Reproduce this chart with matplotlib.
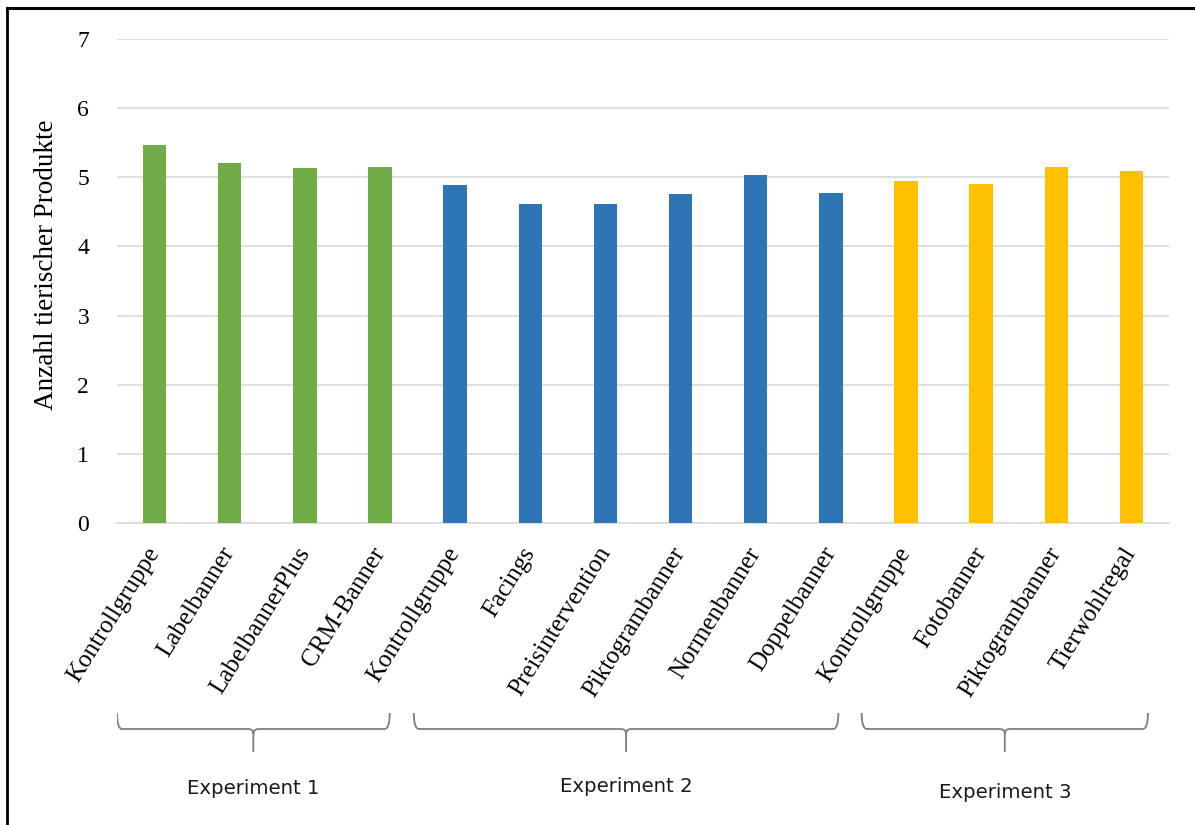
import matplotlib
matplotlib.use("Agg")
import matplotlib.pyplot as plt
from matplotlib.path import Path
from matplotlib.patches import PathPatch
from matplotlib.lines import Line2D

# Mean number of animal products per condition
categories = [
    "Kontrollgruppe", "Labelbanner", "LabelbannerPlus", "CRM-Banner",
    "Kontrollgruppe", "Facings", "Preisintervention", "Piktogrambanner",
    "Normenbanner", "Doppelbanner",
    "Kontrollgruppe", "Fotobanner", "Piktogrambanner", "Tierwohlregal",
]
values = [5.47, 5.21, 5.13, 5.15,
          4.89, 4.61, 4.62, 4.76, 5.03, 4.78,
          4.95, 4.90, 5.15, 5.09]
experiment = [1, 1, 1, 1, 2, 2, 2, 2, 2, 2, 3, 3, 3, 3]
experiment_labels = ["Experiment 1", "Experiment 2", "Experiment 3"]
y_ticks = [0, 1, 2, 3, 4, 5, 6, 7]
y_label = "Anzahl tierischer Produkte"

colors = {1: "#70AD47", 2: "#2E75B6", 3: "#FFC000"}

W, H = 1195, 825
fig = plt.figure(figsize=(W / 100, H / 100), dpi=100)

serif = ["Liberation Serif", "DejaVu Serif"]

# main bar axes
ax = fig.add_axes([117 / W, 1 - 522.7 / H, (1169 - 117) / W, (522.7 - 39.3) / H])
x = list(range(len(categories)))
ax.bar(x, values, width=0.31, color=[colors[e] for e in experiment], zorder=3)
ax.set_xlim(-0.5, len(categories) - 0.5)
ax.set_ylim(0, 7)
ax.set_yticks(y_ticks)
ax.set_yticklabels([str(t) for t in y_ticks], fontfamily=serif, fontsize=17)
ax.yaxis.grid(True, color="#D9D9D9", linewidth=1.2, zorder=0)
for s in ["top", "right", "left"]:
    ax.spines[s].set_visible(False)
ax.spines["bottom"].set_color("#D9D9D9")
ax.spines["bottom"].set_linewidth(1.2)
ax.tick_params(axis="both", length=0)
ax.tick_params(axis="y", pad=20)
ax.set_xticks(x)
ax.set_xticklabels(categories, rotation=58, ha="right", va="center",
                   rotation_mode="anchor", fontfamily=serif, fontsize=18)
ax.tick_params(axis="x", pad=19)

fig.text(47 / W, 1 - 265 / H, y_label, rotation=90, ha="center", va="center",
         fontfamily=serif, fontsize=19.5)

# group braces below the category labels (y in pixel rows)
axb = fig.add_axes([117 / W, 0, (1169 - 117) / W, (825 - 600) / H])
axb.set_xlim(-0.5, len(categories) - 0.5)
axb.set_ylim(825, 600)
axb.axis("off")

brace_spans = [(-0.5, 3.13), (3.45, 9.1), (9.41, 13.22)]
label_rows = [788, 787, 793]
y_top, y_h, y_tip = 713, 729, 752
rx, ry = 0.07, 5

for (x0, x1), lab, ly in zip(brace_spans, experiment_labels, label_rows):
    xc = (x0 + x1) / 2
    verts = [
        (x0, y_top), (x0, y_h), (x0 + rx, y_h),
        (xc - rx, y_h), (xc, y_h), (xc, y_h + ry),
        (xc, y_tip),
        (xc, y_h + ry), (xc, y_h), (xc + rx, y_h),
        (x1 - rx, y_h), (x1, y_h), (x1, y_top),
    ]
    codes = [
        Path.MOVETO, Path.CURVE3, Path.CURVE3,
        Path.LINETO, Path.CURVE3, Path.CURVE3,
        Path.LINETO,
        Path.MOVETO, Path.CURVE3, Path.CURVE3,
        Path.LINETO, Path.CURVE3, Path.CURVE3,
    ]
    axb.add_patch(PathPatch(Path(verts, codes), fill=False, edgecolor="#7F7F7F",
                            linewidth=1.3, capstyle="butt"))
    axb.text(xc, ly, lab, ha="center", va="center", fontsize=14.2,
             fontfamily="DejaVu Sans", color="#1A1A1A")

# frame lines at the top and left edge
fig.add_artist(Line2D([7 / W, 1], [1 - 8 / H, 1 - 8 / H], color="black", linewidth=2.2))
fig.add_artist(Line2D([7 / W, 7 / W], [0, 1 - 8 / H], color="black", linewidth=2.0))

fig.savefig("out.png", dpi=100)
